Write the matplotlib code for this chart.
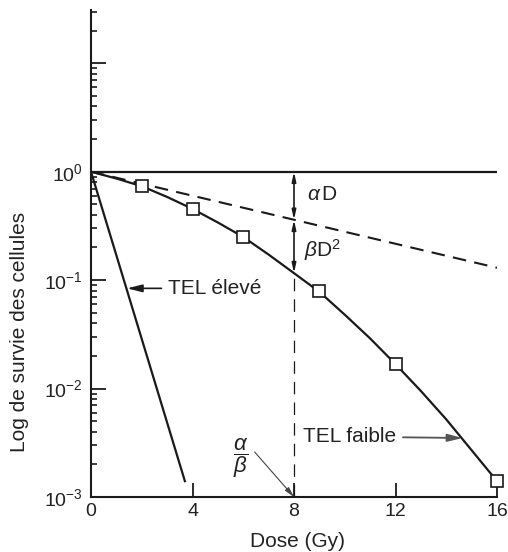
"""Courbes de survie cellulaire : TEL élevé / TEL faible (modèle linéaire-quadratique)."""

# %% Imports
import matplotlib.pyplot as plt
from matplotlib.ticker import FixedLocator, FixedFormatter, NullFormatter

plt.rcParams["font.family"] = ["Liberation Sans", "DejaVu Sans"]
plt.rcParams["mathtext.fontset"] = "custom"
plt.rcParams["mathtext.rm"] = "Liberation Sans"
plt.rcParams["mathtext.it"] = "Liberation Sans:italic"
plt.rcParams["mathtext.bf"] = "Liberation Sans:bold"

# %% Data
dose_low_let = [0, 1, 2, 3, 4, 5, 6, 7, 8, 9, 10, 11, 12, 13, 14, 15, 16]
surv_low_let = [1.0, 0.865, 0.735, 0.585, 0.454, 0.34, 0.25, 0.172, 0.116,
                0.078, 0.048, 0.029, 0.0168, 0.0095, 0.0052, 0.0027, 0.0014]

dose_points = [2, 4, 6, 9, 12, 16]
surv_points = [0.735, 0.454, 0.25, 0.079, 0.0168, 0.0014]

dose_high_let = [0, 3.7]
surv_high_let = [1.0, 0.0014]

dose_alpha = [0, 16]
surv_alpha = [1.0, 0.13]

dose_ref = [0, 16]
surv_ref = [1.0, 1.0]

dose_ab = 8
surv_at_ab = [1e-3, 0.36, 0.116]  # axis, alpha line, LQ curve

x_ticks = [0, 4, 8, 12, 16]
x_tick_labels = ["0", "4", "8", "12", "16"]
y_major = [1e-3, 1e-2, 1e-1, 1, 10]
y_major_labels = [r"$\mathregular{10^{-3}}$", r"$\mathregular{10^{-2}}$",
                  r"$\mathregular{10^{-1}}$", r"$\mathregular{10^{0}}$", ""]

INK = "#1a1a1a"
TXT = "#222222"

# %% Figure
fig = plt.figure(figsize=(5.08, 5.52), dpi=100)
ax = fig.add_axes([91 / 508, 55 / 552, 406 / 508, 487 / 552])
ax.set_yscale("log")
ax.set_xlim(0, 16)
ax.set_ylim(1e-3, 31)

ax.plot(dose_ref, surv_ref, color=INK, lw=1.6, solid_capstyle="butt")
ax.plot(dose_high_let, surv_high_let, color=INK, lw=1.6)
ax.plot(dose_alpha, surv_alpha, color=INK, lw=1.5, dashes=(6.5, 4))
ax.plot(dose_low_let, surv_low_let, color=INK, lw=1.6)
ax.plot(dose_points, surv_points, ls="none", marker="s", ms=8,
        mfc="white", mec=INK, mew=1.2, clip_on=False, zorder=4)

# vertical dashed line at D = alpha/beta
ax.plot([dose_ab, dose_ab], [surv_at_ab[0], surv_at_ab[2]], color=INK,
        lw=0.9, dashes=(10, 6.5))

# alpha D and beta D^2 double arrows
arrow_kw = dict(arrowstyle="<|-|>,head_length=0.55,head_width=0.12",
                color=INK, lw=1.2, shrinkA=0, shrinkB=0)
ax.annotate("", xy=(dose_ab, 1.0), xytext=(dose_ab, surv_at_ab[1]),
            arrowprops=arrow_kw)
ax.annotate("", xy=(dose_ab, surv_at_ab[1]), xytext=(dose_ab, surv_at_ab[2]),
            arrowprops=arrow_kw)
ax.text(8.5, 0.61, r"$\alpha\,\mathregular{D}$", fontsize=15, color=TXT,
        ha="left", va="center")
ax.text(8.4, 0.19, r"$\beta\mathregular{D^2}$", fontsize=15, color=TXT,
        ha="left", va="center")

# labels with pointers
ax.annotate("TEL élevé", xy=(1.42, 0.084), xytext=(3.05, 0.084),
            fontsize=15, color=TXT, ha="left", va="center",
            arrowprops=dict(arrowstyle="-|>,head_length=0.6,head_width=0.15",
                            color=INK, lw=1.2, shrinkA=3, shrinkB=0))
ax.annotate("TEL faible", xy=(14.65, 0.0035), xytext=(8.35, 0.0036),
            fontsize=15, color=TXT, ha="left", va="center",
            arrowprops=dict(arrowstyle="-|>,head_length=0.6,head_width=0.15",
                            color="#555555", lw=1.3, shrinkA=3, shrinkB=0))
ax.text(5.9, 0.0023, r"$\dfrac{\alpha}{\beta}$", fontsize=16, color=TXT,
        ha="center", va="center")
ax.annotate("", xy=(dose_ab, 1e-3), xytext=(6.45, 0.0026),
            arrowprops=dict(arrowstyle="-|>,head_length=0.6,head_width=0.15",
                            color="#444444", lw=0.8, shrinkA=0, shrinkB=0))

# axes styling
for side in ("top", "right"):
    ax.spines[side].set_visible(False)
for side in ("left", "bottom"):
    ax.spines[side].set_linewidth(1.5)
    ax.spines[side].set_color(INK)

ax.xaxis.set_major_locator(FixedLocator(x_ticks))
ax.xaxis.set_major_formatter(FixedFormatter(x_tick_labels))
ax.yaxis.set_major_locator(FixedLocator(y_major))
ax.yaxis.set_major_formatter(FixedFormatter(y_major_labels))
y_minor = [k * 10.0 ** n for n in range(-3, 1) for k in range(2, 10)] + [20, 30]
ax.yaxis.set_minor_locator(FixedLocator(y_minor))
ax.yaxis.set_minor_formatter(NullFormatter())

ax.tick_params(axis="x", which="major", direction="in", length=10, width=1.3,
               pad=4, labelsize=14, colors=INK, labelcolor=TXT)
ax.tick_params(axis="y", which="major", direction="in", length=11, width=1.3,
               pad=6, labelsize=14, colors=INK, labelcolor=TXT)
ax.tick_params(axis="y", which="minor", direction="in", length=4.5,
               width=1.2, colors=INK)

fig.text(20 / 508, 1 - 332 / 552, "Log de survie des cellules", fontsize=15,
         color=TXT, rotation=90, ha="center", va="center")
fig.text(298 / 508, 5 / 552, "Dose (Gy)", fontsize=15, color=TXT,
         ha="center", va="baseline")

fig.savefig("out.png", dpi=100)
